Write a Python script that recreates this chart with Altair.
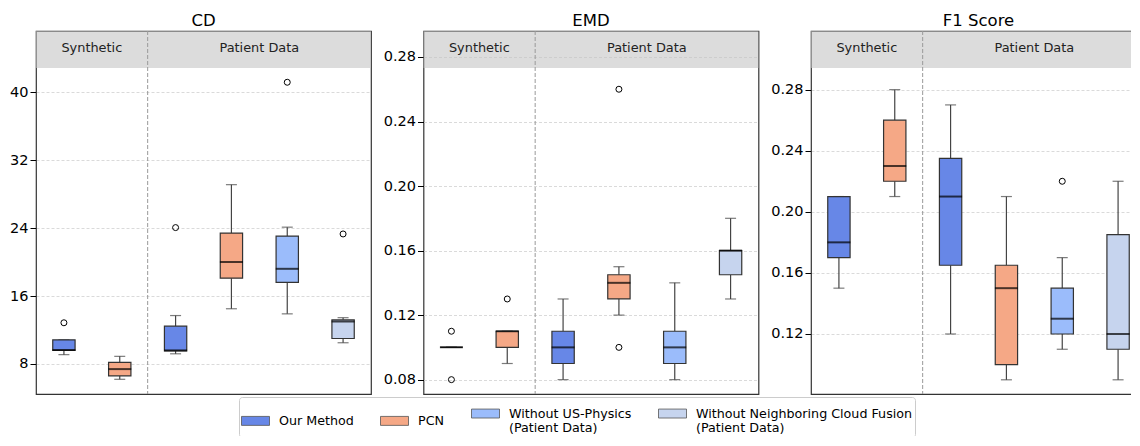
import altair as alt
import pandas as pd

# ---------------- data ----------------
groups = ["Synthetic", "Patient Data"]
methods = [
    "Our Method",
    "PCN",
    "Without US-Physics\n(Patient Data)",
    "Without Neighboring Cloud Fusion\n(Patient Data)",
]
colors = ["#6787e7", "#f5a886", "#9bbcfb", "#c6d4ee"]
group_methods = [[methods[0], methods[1]], [methods[0], methods[1], methods[2], methods[3]]]

titles = ["CD", "EMD", "F1 Score"]

# CD
cd_lo = [9.1, 6.2, 9.2, 14.5, 13.9, 10.5]
cd_q1 = [9.6, 6.6, 9.55, 18.1, 17.6, 11.0]
cd_med = [9.65, 7.4, 9.6, 20.0, 19.2, 13.0]
cd_q3 = [10.85, 8.2, 12.45, 23.4, 23.05, 13.2]
cd_hi = [10.85, 8.9, 13.7, 29.1, 24.1, 13.45]
cd_out_slot = [0, 2, 4, 5]
cd_out_val = [12.85, 24.05, 41.15, 23.3]
cd_ticks = [8, 16, 24, 32, 40]
cd_domain = [4.47, 47.18]

# EMD
emd_lo = [0.10, 0.09, 0.08, 0.12, 0.08, 0.13]
emd_q1 = [0.10, 0.10, 0.09, 0.13, 0.09, 0.145]
emd_med = [0.10, 0.11, 0.10, 0.14, 0.10, 0.16]
emd_q3 = [0.10, 0.11, 0.11, 0.145, 0.11, 0.16]
emd_hi = [0.10, 0.11, 0.13, 0.15, 0.14, 0.18]
emd_out_slot = [0, 0, 1, 3, 3]
emd_out_val = [0.11, 0.08, 0.13, 0.26, 0.10]
emd_ticks = [0.08, 0.12, 0.16, 0.20, 0.24, 0.28]
emd_domain = [0.0711, 0.2961]

# F1 Score
f1_lo = [0.15, 0.21, 0.12, 0.09, 0.11, 0.09]
f1_q1 = [0.17, 0.22, 0.165, 0.10, 0.12, 0.11]
f1_med = [0.18, 0.23, 0.21, 0.15, 0.13, 0.12]
f1_q3 = [0.21, 0.26, 0.235, 0.165, 0.15, 0.185]
f1_hi = [0.21, 0.28, 0.27, 0.21, 0.17, 0.22]
f1_out_slot = [4]
f1_out_val = [0.22]
f1_ticks = [0.12, 0.16, 0.20, 0.24, 0.28]
f1_domain = [0.0807, 0.3184]

# ---------------- structure ----------------
slots, slot_methods = [], []
for g, ms in zip(groups, group_methods):
    for m in ms:
        slots.append(f"{g} | {m}")
        slot_methods.append(m)
n_slots = len(slots)
sizes = [len(ms) for ms in group_methods]
bounds = [sum(sizes[:i + 1]) for i in range(len(sizes))]
centers = [b - s / 2 for b, s in zip(bounds, sizes)]

FONT = "DejaVu Sans"
PW, PH = 335, 363
HEADER_FRAC = 0.102


def panel(title, lo, q1, med, q3, hi, out_slot, out_val, ticks, domain, fmt):
    box_df = pd.DataFrame({"slot": slots, "method": slot_methods, "lo": lo,
                           "q1": q1, "med": med, "q3": q3, "hi": hi})
    out_df = pd.DataFrame({"slot": [slots[i] for i in out_slot], "value": out_val})
    band_lo = domain[1] - HEADER_FRAC * (domain[1] - domain[0])
    band_df = pd.DataFrame({"x0": [0], "x1": [n_slots], "y0": [band_lo], "y1": [domain[1]]})
    sep_df = pd.DataFrame({"xb": bounds[:-1]})
    txt_df = pd.DataFrame({"label": groups, "xc": centers, "yc": [(band_lo + domain[1]) / 2] * len(groups)})

    xs = alt.Scale(domain=slots, paddingInner=0.6, paddingOuter=0.3)
    xband = alt.X("slot:N", scale=xs, axis=None)
    qx = alt.Scale(domain=[0, n_slots], nice=False, zero=False)
    ys = alt.Scale(domain=domain, nice=False, zero=False)
    yax = alt.Axis(values=ticks, format=fmt, title=None)

    def Y(f):
        return alt.Y(f, scale=ys, axis=yax)

    band = alt.Chart(band_df).mark_rect(fill="#c4c4c4", opacity=0.6).encode(
        x=alt.X("x0:Q", scale=qx, axis=None), x2="x1:Q", y=Y("y0:Q"), y2="y1:Q")
    sep = alt.Chart(sep_df).mark_rule(color="#999999", strokeDash=[4, 2], strokeWidth=1).encode(
        x=alt.X("xb:Q", scale=qx, axis=None))
    txt = alt.Chart(txt_df).mark_text(font=FONT, fontSize=12.9, color="#222222", baseline="middle", dy=-2).encode(
        x=alt.X("xc:Q", scale=qx, axis=None), y=Y("yc:Q"), text="label:N")

    base = alt.Chart(box_df)
    w1 = base.mark_rule(color="#444444", strokeWidth=1.2).encode(x=xband, y=Y("lo:Q"), y2="q1:Q")
    w2 = base.mark_rule(color="#444444", strokeWidth=1.2).encode(x=xband, y=Y("q3:Q"), y2="hi:Q")
    c1 = base.mark_tick(color="#444444", thickness=1.2, size=11).encode(x=xband, y=Y("lo:Q"))
    c2 = base.mark_tick(color="#444444", thickness=1.2, size=11).encode(x=xband, y=Y("hi:Q"))
    box = base.mark_bar(stroke="#333333", strokeWidth=1.2, opacity=1).encode(
        x=xband, y=Y("q1:Q"), y2="q3:Q",
        color=alt.Color("method:N", scale=alt.Scale(domain=methods, range=colors),
                        legend=alt.Legend(
                            title=None, orient="none", direction="horizontal",
                            legendX=203, legendY=366,
                            symbolType="M-1,-0.32H1V0.32H-1Z", symbolSize=784,
                            symbolStrokeColor="#555555", symbolStrokeWidth=0.8,
                            symbolOpacity=1,
                            labelExpr="split(datum.label, '\\n')",
                            labelFont=FONT, labelFontSize=12.7, labelColor="black",
                            labelBaseline="middle", labelOffset=9, labelLimit=400,
                            columnPadding=24, padding=2, strokeColor="#cccccc",
                            fillColor="white", cornerRadius=3)))
    medl = base.mark_tick(color="black", thickness=2, size=23).encode(x=xband, y=Y("med:Q"))
    pts = alt.Chart(out_df).mark_point(shape="circle", filled=False, color="black",
                                       strokeWidth=1, size=36, opacity=1).encode(
        x=alt.X("slot:N", scale=xs, axis=None), y=Y("value:Q"))

    return alt.layer(band, sep, w1, w2, c1, c2, box, medl, pts, txt).resolve_scale(
        x="independent").properties(
        width=PW, height=PH,
        title=alt.TitleParams(title, font=FONT, fontSize=16.5, fontWeight="normal",
                              color="black", offset=1))


p1 = panel(titles[0], cd_lo, cd_q1, cd_med, cd_q3, cd_hi, cd_out_slot, cd_out_val, cd_ticks, cd_domain, "d")
p2 = panel(titles[1], emd_lo, emd_q1, emd_med, emd_q3, emd_hi, emd_out_slot, emd_out_val, emd_ticks, emd_domain, ".2f")
p3 = panel(titles[2], f1_lo, f1_q1, f1_med, f1_q3, f1_hi, f1_out_slot, f1_out_val, f1_ticks, f1_domain, ".2f")

chart = alt.hconcat(p1, p2, p3, spacing=10.5).properties(
    padding={"left": 0, "top": 4, "right": -16, "bottom": -2}
).configure(font=FONT).configure_view(
    stroke="#333333", strokeWidth=1.2
).configure_axis(
    labelFont=FONT, labelFontSize=14.5, labelColor="black", tickColor="black",
    tickSize=6, tickWidth=1, labelPadding=2, domain=False,
    grid=True, gridColor="#d0d0d0", gridDash=[3, 2], gridWidth=0.8
)

chart.save("out.html", embed_options={"renderer": "svg", "actions": False})
